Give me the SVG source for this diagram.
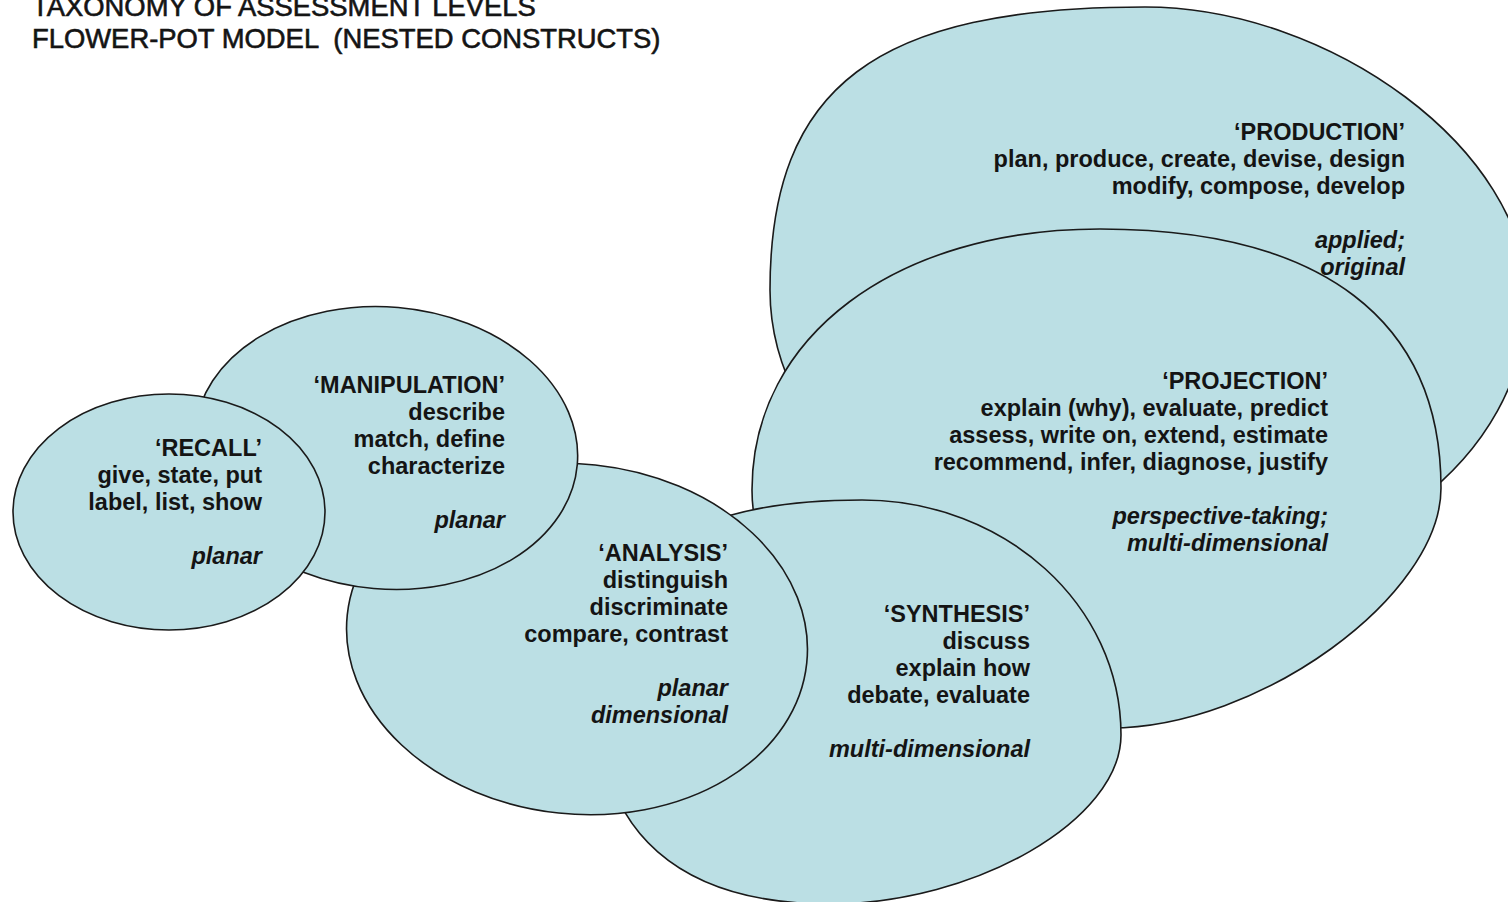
<svg xmlns="http://www.w3.org/2000/svg" width="1508" height="902" viewBox="0 0 1508 902">
<style>
.shape{fill:#bbdfe4;stroke:#1a1a1a;stroke-width:1.6}
.t{font-family:"Liberation Sans",Arial,sans-serif;font-size:23.5px;font-weight:bold;fill:#141414;text-anchor:end}
.i{font-style:italic}
.title{font-family:"Liberation Sans",Arial,sans-serif;font-size:27.4px;fill:#141414;stroke:#141414;stroke-width:0.6}
</style>
<rect width="1508" height="902" fill="#ffffff"/>
<g id="title">
<text class="title" x="32" y="16">TAXONOMY OF ASSESSMENT LEVELS</text>
<text class="title" x="32" y="48" xml:space="preserve">FLOWER-POT MODEL  (NESTED CONSTRUCTS)</text>
</g>
<g id="connectors"></g>
<g id="production">
<path class="shape" d="M770,290 C770,86 876,7 1145,7 C1330,7 1527,150 1527,298 C1527,460 1358,585 1150,585 C942,585 770,450 770,290 Z"/>
<text class="t" x="1405" y="140">‘PRODUCTION’</text>
<text class="t" x="1405" y="167">plan, produce, create, devise, design</text>
<text class="t" x="1405" y="194">modify, compose, develop</text>
<text class="t i" x="1405" y="248">applied;</text>
<text class="t i" x="1405" y="275">original</text>
</g>
<g id="projection">
<path class="shape" d="M752,490 C752,336 896,229 1100,229 C1322,229 1441,320 1441,488 C1441,596 1259,728 1110,728 C912,728 752,621 752,490 Z"/>
<text class="t" x="1328" y="389">‘PROJECTION’</text>
<text class="t" x="1328" y="416">explain (why), evaluate, predict</text>
<text class="t" x="1328" y="443">assess, write on, extend, estimate</text>
<text class="t" x="1328" y="470">recommend, infer, diagnose, justify</text>
<text class="t i" x="1328" y="524">perspective-taking;</text>
<text class="t i" x="1328" y="551">multi-dimensional</text>
</g>
<g id="synthesis">
<path class="shape" d="M862,500 C1005,500 1121,605 1121,735 C1121,820 975,904 830,904 C680,904 598,833 598,700 C598,560 680,500 862,500 Z"/>
<text class="t" x="1030" y="622">‘SYNTHESIS’</text>
<text class="t" x="1030" y="649">discuss</text>
<text class="t" x="1030" y="676">explain how</text>
<text class="t" x="1030" y="703">debate, evaluate</text>
<text class="t i" x="1030" y="757">multi-dimensional</text>
</g>
<g id="analysis">
<ellipse class="shape" cx="577" cy="639" rx="231" ry="175" transform="rotate(6 577 639)"/>
<text class="t" x="728" y="561">‘ANALYSIS’</text>
<text class="t" x="728" y="588">distinguish</text>
<text class="t" x="728" y="615">discriminate</text>
<text class="t" x="728" y="642">compare, contrast</text>
<text class="t i" x="728" y="696">planar</text>
<text class="t i" x="728" y="723">dimensional</text>
</g>
<g id="manipulation">
<ellipse class="shape" cx="386" cy="448" rx="192" ry="141" transform="rotate(5 386 448)"/>
<text class="t" x="505" y="393">‘MANIPULATION’</text>
<text class="t" x="505" y="420">describe</text>
<text class="t" x="505" y="447">match, define</text>
<text class="t" x="505" y="474">characterize</text>
<text class="t i" x="505" y="528">planar</text>
</g>
<g id="recall">
<ellipse class="shape" cx="169" cy="512" rx="156" ry="118"/>
<text class="t" x="262" y="456">‘RECALL’</text>
<text class="t" x="262" y="483">give, state, put</text>
<text class="t" x="262" y="510">label, list, show</text>
<text class="t i" x="262" y="564">planar</text>
</g>
</svg>
